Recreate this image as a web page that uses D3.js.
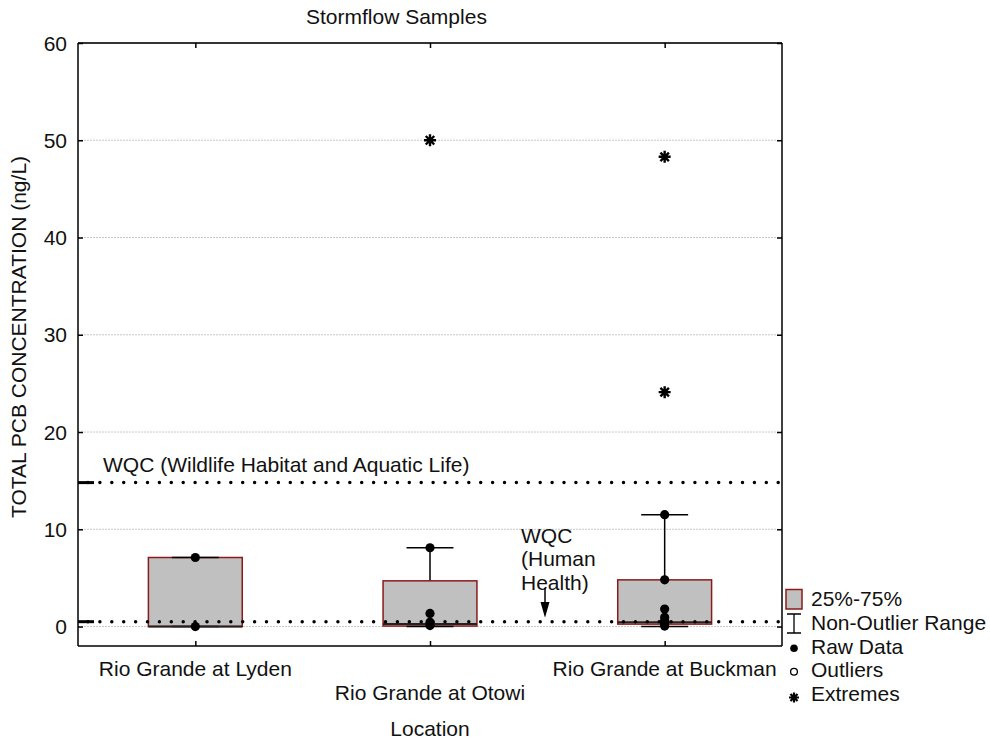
<!DOCTYPE html>
<html>
<head>
<meta charset="utf-8">
<script src="https://cdn.jsdelivr.net/npm/d3@7"></script>
<style>
  html, body { margin: 0; padding: 0; background: #fff; }
  svg { display: block; font-family: "Liberation Sans", Arial, sans-serif; }
</style>
</head>
<body>
<svg id="chart" width="990" height="740"></svg>
<script>
// Sites along the Rio Grande
const sites = ["Rio Grande at Lyden", "Rio Grande at Otowi", "Rio Grande at Buckman"];

// Box statistics per site (ng/L)
const q1 = [0, 0.05, 0.25];
const medians = [0, 0.25, 0.45];
const q3 = [7.1, 4.7, 4.8];
const whiskerLow = [0, 0, 0];
const whiskerHigh = [7.1, 8.1, 11.5];

// Individual stormflow samples (ng/L)
const rawLyden = [0, 7.1];
const rawOtowi = [0.1, 0.45, 1.35, 8.1];
const rawBuckman = [0.05, 0.3, 0.6, 0.95, 1.8, 4.8, 11.5];
const rawData = [rawLyden, rawOtowi, rawBuckman];

// Extreme values
const extremes = [[], [50], [24.1, 48.3]];

// Water quality criteria (ng/L)
const wqcWildlife = 14.8;
const wqcHuman = 0.5;

const yTicks = [0, 10, 20, 30, 40, 50, 60];
const legendItems = ["25%-75%", "Non-Outlier Range", "Raw Data", "Outliers", "Extremes"];

const svg = d3.select("#chart");
const pL = 78, pR = 782, pT = 43, pB = 646;
const FS = 21;

const x = d3.scalePoint().domain(sites).range([pL, pR]).padding(0.5);
const y = d3.scaleLinear().domain([-2, 60]).range([pB, pT]);
const step = x.step();
const boxW = step * 0.4;
const capW = step * 0.2;

// Asterisk symbol with four crossing strokes
const asterisk = {
  draw(ctx, size) {
    const r = Math.sqrt(size) / 2;
    const d = r * Math.SQRT1_2;
    ctx.moveTo(-r, 0); ctx.lineTo(r, 0);
    ctx.moveTo(0, -r); ctx.lineTo(0, r);
    ctx.moveTo(-d, -d); ctx.lineTo(d, d);
    ctx.moveTo(-d, d); ctx.lineTo(d, -d);
  }
};
const starPath = d3.symbol().type(asterisk).size(144)();

// Horizontal grid
svg.append("g").selectAll("line")
  .data(yTicks.filter(t => t < 60))
  .join("line")
  .attr("x1", pL).attr("x2", pR)
  .attr("y1", d => y(d)).attr("y2", d => y(d))
  .attr("stroke", "#c8c8c8").attr("stroke-width", 1)
  .attr("stroke-dasharray", "2,1");

// Boxes
const g = svg.append("g");
sites.forEach((s, i) => {
  const cx = x(s);
  // whiskers
  g.append("line").attr("x1", cx).attr("x2", cx)
    .attr("y1", y(q3[i])).attr("y2", y(whiskerHigh[i]))
    .attr("stroke", "#000").attr("stroke-width", 1.5);
  g.append("line").attr("x1", cx).attr("x2", cx)
    .attr("y1", y(q1[i])).attr("y2", y(whiskerLow[i]))
    .attr("stroke", "#000").attr("stroke-width", 1.5);
  g.append("rect")
    .attr("x", cx - boxW / 2).attr("width", boxW)
    .attr("y", y(q3[i])).attr("height", y(q1[i]) - y(q3[i]))
    .attr("fill", "#c0c0c0").attr("stroke", "#8b1a1a").attr("stroke-width", 1.5);
  [whiskerHigh[i], whiskerLow[i]].forEach(v => {
    g.append("line").attr("x1", cx - capW / 2).attr("x2", cx + capW / 2)
      .attr("y1", y(v)).attr("y2", y(v))
      .attr("stroke", "#000").attr("stroke-width", 1.5);
  });
  g.append("line").attr("x1", cx - boxW / 2).attr("x2", cx + boxW / 2)
    .attr("y1", y(medians[i])).attr("y2", y(medians[i]))
    .attr("stroke", "#222").attr("stroke-width", 2);
});

// Criteria lines
[wqcWildlife, wqcHuman].forEach(v => {
  svg.append("line")
    .attr("x1", pL + 10).attr("x2", pR)
    .attr("y1", y(v)).attr("y2", y(v))
    .attr("stroke", "#000").attr("stroke-width", 3.5)
    .attr("stroke-linecap", "round").attr("stroke-dasharray", "0,11.9");
  svg.append("line")
    .attr("x1", pL).attr("x2", pL + 16)
    .attr("y1", y(v)).attr("y2", y(v))
    .attr("stroke", "#000").attr("stroke-width", 3);
});

svg.append("text").attr("x", 103).attr("y", 471.5)
  .attr("font-size", FS).attr("fill", "#111")
  .text("WQC (Wildlife Habitat and Aquatic Life)");

const hh = svg.append("text").attr("x", 521).attr("y", 542.5)
  .attr("font-size", FS).attr("fill", "#111");
["WQC", "(Human", "Health)"].forEach((t, k) => {
  hh.append("tspan").attr("x", 521).attr("dy", k === 0 ? 0 : 23.7).text(t);
});

// Arrow pointing to the human health criterion
const ax = 545;
svg.append("line").attr("x1", ax).attr("x2", ax)
  .attr("y1", 588).attr("y2", 606)
  .attr("stroke", "#000").attr("stroke-width", 1.5);
svg.append("path")
  .attr("d", `M${ax - 4.5},${602} L${ax + 4.5},${602} L${ax},${y(wqcHuman) - 4} Z`)
  .attr("fill", "#000");

// Raw data points and extremes
sites.forEach((s, i) => {
  svg.append("g").selectAll("circle")
    .data(rawData[i]).join("circle")
    .attr("cx", x(s)).attr("cy", d => y(d)).attr("r", 4.6)
    .attr("fill", "#000");
  svg.append("g").selectAll("path")
    .data(extremes[i]).join("path")
    .attr("d", starPath)
    .attr("transform", d => `translate(${x(s)},${y(d)})`)
    .attr("stroke", "#000").attr("stroke-width", 2.4).attr("fill", "none");
});

// Frame
svg.append("line").attr("x1", pL).attr("x2", pR).attr("y1", pT).attr("y2", pT)
  .attr("stroke", "#333").attr("stroke-width", 2.2);
svg.append("line").attr("x1", pL).attr("x2", pR).attr("y1", pB).attr("y2", pB)
  .attr("stroke", "#000").attr("stroke-width", 1.5);
svg.append("line").attr("x1", pL).attr("x2", pL).attr("y1", pT).attr("y2", pB)
  .attr("stroke", "#000").attr("stroke-width", 1.5);
svg.append("line").attr("x1", pR).attr("x2", pR).attr("y1", pT).attr("y2", pB)
  .attr("stroke", "#000").attr("stroke-width", 1.5);

// Axes with inward ticks
const yAxisL = svg.append("g").attr("transform", `translate(${pL},0)`)
  .call(d3.axisRight(y).tickValues(yTicks).tickSize(5).tickFormat(""));
const yAxisR = svg.append("g").attr("transform", `translate(${pR},0)`)
  .call(d3.axisLeft(y).tickValues(yTicks).tickSize(5).tickFormat(""));
const xAxisT = svg.append("g").attr("transform", `translate(0,${pT})`)
  .call(d3.axisBottom(x).tickSize(5).tickFormat(""));
const xAxisB = svg.append("g").attr("transform", `translate(0,${pB})`)
  .call(d3.axisTop(x).tickSize(5).tickFormat(""));
[yAxisL, yAxisR, xAxisT, xAxisB].forEach(a => {
  a.select(".domain").remove();
  a.selectAll(".tick line").attr("stroke", "#000").attr("stroke-width", 1.5);
});

// Tick labels
svg.append("g").selectAll("text").data(yTicks).join("text")
  .attr("x", 67).attr("y", d => y(d)).attr("dy", "0.36em")
  .attr("text-anchor", "end").attr("font-size", FS).attr("fill", "#111")
  .text(d => d);

svg.append("g").selectAll("text").data(sites).join("text")
  .attr("x", d => x(d)).attr("y", (d, i) => i === 1 ? 700 : 676)
  .attr("text-anchor", "middle").attr("font-size", FS).attr("fill", "#111")
  .text(d => d);

// Titles
svg.append("text").attr("x", 306).attr("y", 24)
  .attr("font-size", FS).attr("fill", "#111").text("Stormflow Samples");
svg.append("text").attr("x", (pL + pR) / 2).attr("y", 736)
  .attr("text-anchor", "middle").attr("font-size", FS).attr("fill", "#111").text("Location");
svg.append("text")
  .attr("transform", "translate(26,337) rotate(-90)")
  .attr("text-anchor", "middle").attr("font-size", FS).attr("fill", "#111")
  .text("TOTAL PCB CONCENTRATION (ng/L)");

// Legend
const lg = svg.append("g");
const lx = 794;
const baseY = [606, 630, 653.5, 677, 700.5];
lg.selectAll("text").data(legendItems).join("text")
  .attr("x", 811).attr("y", (d, i) => baseY[i])
  .attr("font-size", FS).attr("fill", "#111").text(d => d);
lg.append("rect").attr("x", lx - 8).attr("y", 589.5).attr("width", 16).attr("height", 19.5)
  .attr("fill", "#c0c0c0").attr("stroke", "#8b1a1a").attr("stroke-width", 1.5);
lg.append("path")
  .attr("d", `M${lx - 7},614 H${lx + 7} M${lx},614 V633 M${lx - 7},633 H${lx + 7}`)
  .attr("stroke", "#000").attr("stroke-width", 1.3).attr("fill", "none");
lg.append("circle").attr("cx", lx).attr("cy", 648.3).attr("r", 3.8).attr("fill", "#000");
lg.append("circle").attr("cx", lx).attr("cy", 671.7).attr("r", 3.4)
  .attr("fill", "#fff").attr("stroke", "#000").attr("stroke-width", 1.3);
lg.append("path").attr("d", d3.symbol().type(asterisk).size(100)())
  .attr("transform", `translate(${lx},697.5)`)
  .attr("stroke", "#000").attr("stroke-width", 2.2).attr("fill", "none");
</script>
</body>
</html>
